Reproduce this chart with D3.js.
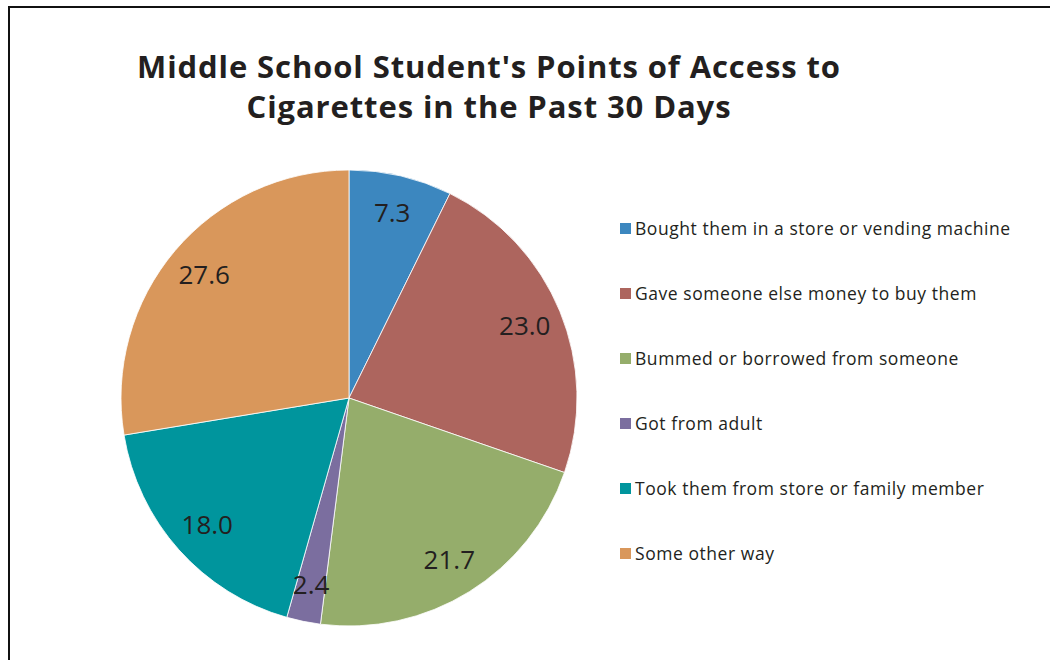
<!DOCTYPE html>
<html>
<head>
<meta charset="utf-8">
<script src="https://cdn.jsdelivr.net/npm/d3@7"></script>
<style>
  html, body { margin: 0; padding: 0; background: #fff; }
  svg { display: block; }
</style>
</head>
<body>
<svg id="chart" width="1050" height="660"></svg>
<script>
// Points of access to cigarettes (percent of middle school smokers)
const categories = [
  "Bought them in a store or vending machine",
  "Gave someone else money to buy them",
  "Bummed or borrowed from someone",
  "Got from adult",
  "Took them from store or family member",
  "Some other way"
];
const values = [7.3, 23.0, 21.7, 2.4, 18.0, 27.6];
const colors = ["#3c87bf", "#ad655e", "#95ad6b", "#7b6e9f", "#00959d", "#d9975b"];
const titleLines = ["Middle School Student's Points of Access to", "Cigarettes in the Past 30 Days"];

const svg = d3.select("#chart");
const font = "'Open Sans', 'Noto Sans', sans-serif";

// frame
svg.append("rect")
  .attr("x", 9).attr("y", 7)
  .attr("width", 1060).attr("height", 700)
  .attr("fill", "none").attr("stroke", "#111").attr("stroke-width", 2);

// title
svg.append("g").selectAll("text").data(titleLines).join("text")
  .attr("x", 489)
  .attr("y", (d, i) => 78 + i * 40)
  .attr("text-anchor", "middle")
  .attr("font-family", font)
  .attr("font-weight", "bold")
  .attr("font-size", 31)
  .attr("letter-spacing", 0.9)
  .attr("fill", "#231f20")
  .text(d => d);

// pie
const cx = 349, cy = 398, R = 228;
const pie = d3.pie().sort(null).value(d => d);
const arcs = pie(values);
const arc = d3.arc().innerRadius(0).outerRadius(R);
const labelArc = d3.arc().innerRadius(190).outerRadius(190);

const g = svg.append("g").attr("transform", `translate(${cx},${cy})`);
g.selectAll("path").data(arcs).join("path")
  .attr("d", arc)
  .attr("fill", (d, i) => colors[i])
  .attr("stroke", "#fff")
  .attr("stroke-width", 0.8);

g.selectAll("text").data(arcs).join("text")
  .attr("transform", d => `translate(${labelArc.centroid(d)})`)
  .attr("text-anchor", "middle")
  .attr("dy", "0.36em")
  .attr("font-family", font)
  .attr("font-size", 26)
  .attr("fill", "#231f20")
  .text(d => d.data.toFixed(1));

// legend
const legend = svg.append("g").attr("transform", "translate(620,229)");
const rows = legend.selectAll("g").data(categories).join("g")
  .attr("transform", (d, i) => `translate(0,${i * 65})`);
rows.append("rect")
  .attr("x", 0).attr("y", -6)
  .attr("width", 11).attr("height", 11)
  .attr("fill", (d, i) => colors[i]);
rows.append("text")
  .attr("x", 15)
  .attr("dy", "0.35em")
  .attr("font-family", font)
  .attr("font-size", 17.5)
  .attr("letter-spacing", 0.55)
  .attr("fill", "#231f20")
  .text(d => d);
</script>
</body>
</html>
